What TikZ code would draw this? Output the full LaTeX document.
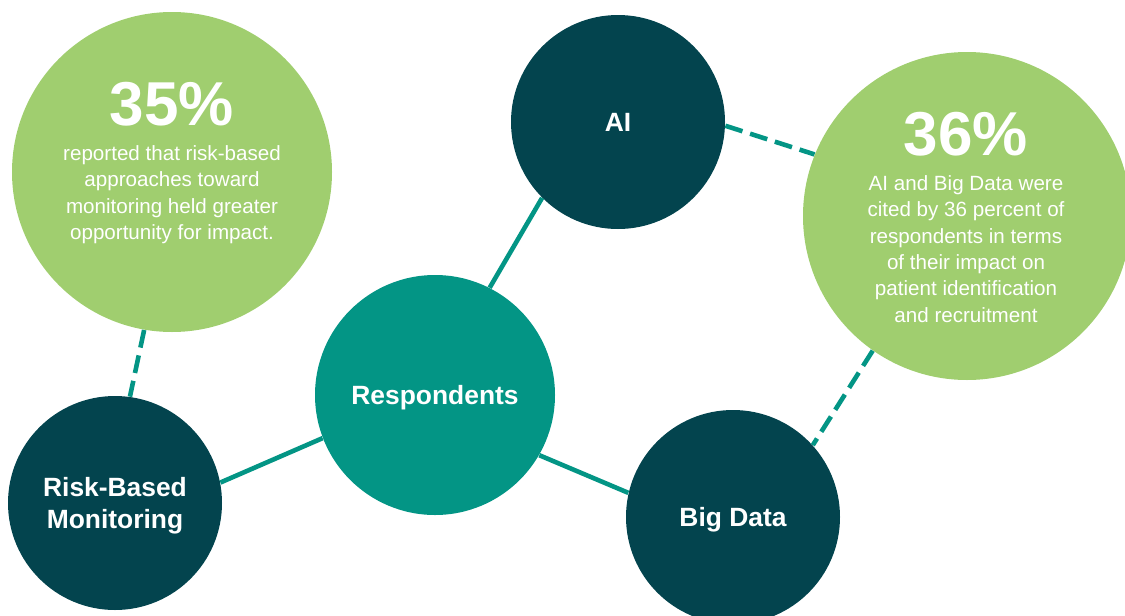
\documentclass[tikz,border=0pt]{standalone}
\usepackage{fontspec}
\setmainfont{Liberation Sans}
\usetikzlibrary{positioning}
\definecolor{leafgreen}{HTML}{A0CE6F}
\definecolor{deepteal}{HTML}{03444E}
\definecolor{midteal}{HTML}{039585}
\tikzset{
  hub/.style={circle, fill=deepteal, text=white, align=center, inner sep=0pt,
    text depth=0pt, font=\bfseries\fontsize{13.2}{15.75}\selectfont},
  stat/.style={circle, fill=leafgreen, inner sep=0pt},
  bignum/.style={text=white, inner sep=0pt, font=\bfseries\fontsize{31}{31}\selectfont},
  statbody/.style={text=white, align=center, inner sep=0pt, font=\fontsize{10.3}{13.2}\selectfont},
  link/.style={draw=midteal, line width=2.3pt},
  dashlink/.style={link, dash pattern=on 9pt off 4pt}
}

\begin{document}
\begin{tikzpicture}[x=0.5pt, y=-0.5pt]
        \useasboundingbox (0,0) rectangle (1125,616);
        \node[stat, minimum size=160pt] (pct35) at (172,172) {};
        \node[stat, minimum size=164pt] (pct36) at (967,216) {};
        \node[hub, minimum size=107pt] (ai) at (618,122) {AI};
        \node[hub, minimum size=120pt, fill=midteal] (resp) at (435,395) {Respondents};
        \node[hub, minimum size=107pt] (rbm) at (115,503) {Risk-Based\\Monitoring};
        \node[hub, minimum size=107pt] (bigdata) at (733,517) {Big Data};

        \node[bignum, anchor=base] (num35) at (172,125) {35\%};
        \node[statbody, below=10pt of num35.base] (txt35) {reported that risk-based\\approaches toward\\monitoring held greater\\opportunity for impact.};
        \node[bignum, anchor=base] (num36) at (966,155) {36\%};
        \node[statbody, below=10pt of num36.base] (txt36) {AI and Big Data were\\cited by 36 percent of\\respondents in terms\\of their impact on\\patient identification\\and recruitment};

        % solid links to the centre
        \draw[link] (rbm.11) -- (resp.201);
        \draw[link] (resp.330) -- (bigdata.167);
        \draw[link] (resp.63) -- (ai.225);
        % dashed links to the figures
        \draw[dashlink] (pct35.260) -- (rbm.82);
        \draw[dashlink] (ai.-2) -- (pct36.158);
        \draw[dashlink] (pct36.235) -- (bigdata.42);
      \end{tikzpicture}
\end{document}
